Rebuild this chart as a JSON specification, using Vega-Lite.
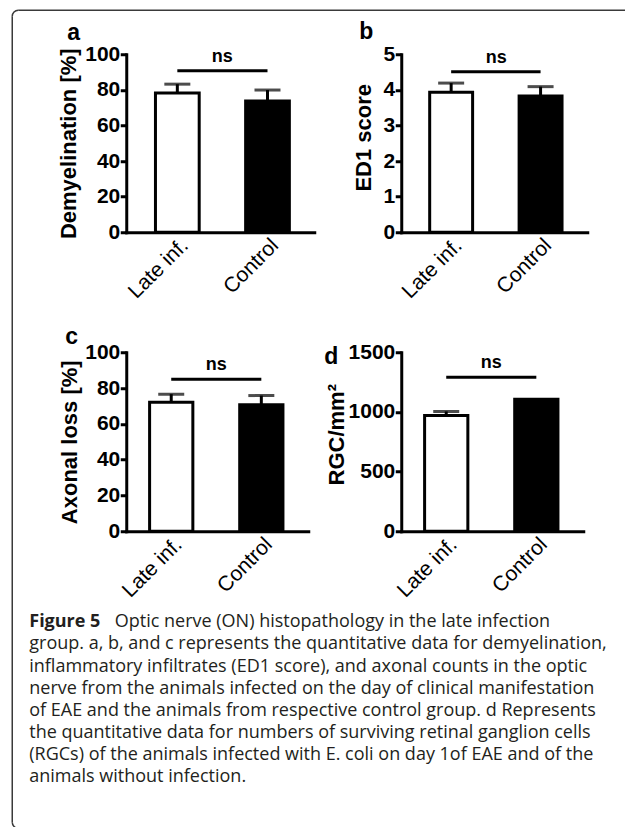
{
  "$schema": "https://vega.github.io/schema/vega-lite/v6.json",
  "autosize": {"type": "pad"},
  "padding": {"left": 9.25, "top": 7.25, "right": 0, "bottom": 0},
  "background": "white",
  "columns": 2,
  "bounds": "flush",
  "spacing": {"row": 120, "column": 87},
  "concat": [
    {
      "width": 188, "height": 178,
      "data": {"values": [
        {"group": "Late inf.", "mean": 78.3, "hi": 83.2},
        {"group": "Control", "mean": 73.8, "hi": 79.9}
      ]},
      "layer": [
        {
          "transform": [{"filter": "datum.hi != null"}],
          "mark": {"type": "rule", "color": "black", "strokeWidth": 3},
          "encoding": {
            "x": {"field": "group", "type": "nominal", "sort": null, "scale": {"domain": ["Late inf.", "Control"], "paddingInner": 0.515, "paddingOuter": 0.3, "align": 0.54}, "axis": {"title": null, "labelAngle": -45, "ticks": false, "labelFontWeight": "normal", "labelPadding": 2}},
            "y": {"field": "mean", "type": "quantitative", "scale": {"domain": [0, 100], "nice": false}, "axis": {"title": "Demyelination [%]", "values": [0, 20, 40, 60, 80, 100], "titlePadding": 4}},
            "y2": {"field": "hi"}
          }
        },
        {
          "transform": [{"filter": "datum.hi != null"}],
          "mark": {"type": "tick", "color": "black", "thickness": 3, "size": 26},
          "encoding": {
            "x": {"field": "group", "type": "nominal", "sort": null},
            "y": {"field": "hi", "type": "quantitative", "scale": {"domain": [0, 100], "nice": false}, "axis": {"title": "Demyelination [%]", "values": [0, 20, 40, 60, 80, 100], "titlePadding": 4}}
          }
        },
        {
          "mark": {"type": "bar", "stroke": "black", "strokeWidth": 3},
          "encoding": {
            "x": {"field": "group", "type": "nominal", "sort": null},
            "y": {"field": "mean", "type": "quantitative", "scale": {"domain": [0, 100], "nice": false}, "axis": {"title": "Demyelination [%]", "values": [0, 20, 40, 60, 80, 100], "titlePadding": 4}},
            "fill": {"field": "group", "type": "nominal", "scale": {"domain": ["Late inf.", "Control"], "range": ["white", "black"]}, "legend": null}
          }
        },
        {
          "data": {"values": [{"from": "Late inf.", "to": "Control", "level": 90.8}]},
          "mark": {"type": "rule", "color": "black", "strokeWidth": 3},
          "encoding": {
            "x": {"field": "from", "type": "nominal", "bandPosition": 0.5},
            "x2": {"field": "to", "bandPosition": 0.5},
            "y": {"field": "level", "type": "quantitative", "scale": {"domain": [0, 100], "nice": false}, "axis": {"title": "Demyelination [%]", "values": [0, 20, 40, 60, 80, 100], "titlePadding": 4}}
          }
        },
        {
          "data": {"values": [{"from": "Late inf.", "to": "Control", "level": 90.8}]},
          "mark": {"type": "text", "text": "ns", "dx": 45, "dy": -9, "baseline": "alphabetic", "fontSize": 18, "fontWeight": "bold", "font": "Liberation Sans", "color": "black"},
          "encoding": {
            "x": {"field": "from", "type": "nominal"},
            "y": {"field": "level", "type": "quantitative", "scale": {"domain": [0, 100], "nice": false}, "axis": {"title": "Demyelination [%]", "values": [0, 20, 40, 60, 80, 100], "titlePadding": 4}}
          }
        },
        {
          "data": {"values": [{"letter": "a"}]},
          "mark": {"type": "text", "align": "left", "baseline": "alphabetic", "fontSize": 23, "fontWeight": "bold", "font": "Liberation Sans", "color": "black"},
          "encoding": {"text": {"field": "letter"}, "x": {"value": -59}, "y": {"value": -14}}
        }
      ]
    },
    {
      "width": 186, "height": 178,
      "data": {"values": [
        {"group": "Late inf.", "mean": 3.93, "hi": 4.19},
        {"group": "Control", "mean": 3.83, "hi": 4.09}
      ]},
      "layer": [
        {
          "transform": [{"filter": "datum.hi != null"}],
          "mark": {"type": "rule", "color": "black", "strokeWidth": 3},
          "encoding": {
            "x": {"field": "group", "type": "nominal", "sort": null, "scale": {"domain": ["Late inf.", "Control"], "paddingInner": 0.52, "paddingOuter": 0.3, "align": 0.53}, "axis": {"title": null, "labelAngle": -45, "ticks": false, "labelFontWeight": "normal", "labelPadding": 2}},
            "y": {"field": "mean", "type": "quantitative", "scale": {"domain": [0, 5], "nice": false}, "axis": {"title": "ED1 score", "values": [0, 1, 2, 3, 4, 5], "titlePadding": 8, "titleY": 83}},
            "y2": {"field": "hi"}
          }
        },
        {
          "transform": [{"filter": "datum.hi != null"}],
          "mark": {"type": "tick", "color": "black", "thickness": 3, "size": 26},
          "encoding": {
            "x": {"field": "group", "type": "nominal", "sort": null},
            "y": {"field": "hi", "type": "quantitative", "scale": {"domain": [0, 5], "nice": false}, "axis": {"title": "ED1 score", "values": [0, 1, 2, 3, 4, 5], "titlePadding": 8, "titleY": 83}}
          }
        },
        {
          "mark": {"type": "bar", "stroke": "black", "strokeWidth": 3},
          "encoding": {
            "x": {"field": "group", "type": "nominal", "sort": null},
            "y": {"field": "mean", "type": "quantitative", "scale": {"domain": [0, 5], "nice": false}, "axis": {"title": "ED1 score", "values": [0, 1, 2, 3, 4, 5], "titlePadding": 8, "titleY": 83}},
            "fill": {"field": "group", "type": "nominal", "scale": {"domain": ["Late inf.", "Control"], "range": ["white", "black"]}, "legend": null}
          }
        },
        {
          "data": {"values": [{"from": "Late inf.", "to": "Control", "level": 4.51}]},
          "mark": {"type": "rule", "color": "black", "strokeWidth": 3},
          "encoding": {
            "x": {"field": "from", "type": "nominal", "bandPosition": 0.5},
            "x2": {"field": "to", "bandPosition": 0.5},
            "y": {"field": "level", "type": "quantitative", "scale": {"domain": [0, 5], "nice": false}, "axis": {"title": "ED1 score", "values": [0, 1, 2, 3, 4, 5], "titlePadding": 8, "titleY": 83}}
          }
        },
        {
          "data": {"values": [{"from": "Late inf.", "to": "Control", "level": 4.51}]},
          "mark": {"type": "text", "text": "ns", "dx": 45, "dy": -9, "baseline": "alphabetic", "fontSize": 18, "fontWeight": "bold", "font": "Liberation Sans", "color": "black"},
          "encoding": {
            "x": {"field": "from", "type": "nominal"},
            "y": {"field": "level", "type": "quantitative", "scale": {"domain": [0, 5], "nice": false}, "axis": {"title": "ED1 score", "values": [0, 1, 2, 3, 4, 5], "titlePadding": 8, "titleY": 83}}
          }
        },
        {
          "data": {"values": [{"letter": "b"}]},
          "mark": {"type": "text", "align": "left", "baseline": "alphabetic", "fontSize": 23, "fontWeight": "bold", "font": "Liberation Sans", "color": "black"},
          "encoding": {"text": {"field": "letter"}, "x": {"value": -42}, "y": {"value": -15}}
        }
      ]
    },
    {
      "width": 182, "height": 179,
      "data": {"values": [
        {"group": "Late inf.", "mean": 72.0, "hi": 76.6},
        {"group": "Control", "mean": 70.7, "hi": 75.8}
      ]},
      "layer": [
        {
          "transform": [{"filter": "datum.hi != null"}],
          "mark": {"type": "rule", "color": "black", "strokeWidth": 3},
          "encoding": {
            "x": {"field": "group", "type": "nominal", "sort": null, "scale": {"domain": ["Late inf.", "Control"], "paddingInner": 0.52, "paddingOuter": 0.27, "align": 0.48}, "axis": {"title": null, "labelAngle": -45, "ticks": false, "labelFontWeight": "normal", "labelPadding": 2}},
            "y": {"field": "mean", "type": "quantitative", "scale": {"domain": [0, 100], "nice": false}, "axis": {"title": "Axonal loss [%]", "values": [0, 20, 40, 60, 80, 100], "titlePadding": 3}},
            "y2": {"field": "hi"}
          }
        },
        {
          "transform": [{"filter": "datum.hi != null"}],
          "mark": {"type": "tick", "color": "black", "thickness": 3, "size": 26},
          "encoding": {
            "x": {"field": "group", "type": "nominal", "sort": null},
            "y": {"field": "hi", "type": "quantitative", "scale": {"domain": [0, 100], "nice": false}, "axis": {"title": "Axonal loss [%]", "values": [0, 20, 40, 60, 80, 100], "titlePadding": 3}}
          }
        },
        {
          "mark": {"type": "bar", "stroke": "black", "strokeWidth": 3},
          "encoding": {
            "x": {"field": "group", "type": "nominal", "sort": null},
            "y": {"field": "mean", "type": "quantitative", "scale": {"domain": [0, 100], "nice": false}, "axis": {"title": "Axonal loss [%]", "values": [0, 20, 40, 60, 80, 100], "titlePadding": 3}},
            "fill": {"field": "group", "type": "nominal", "scale": {"domain": ["Late inf.", "Control"], "range": ["white", "black"]}, "legend": null}
          }
        },
        {
          "data": {"values": [{"from": "Late inf.", "to": "Control", "level": 84.9}]},
          "mark": {"type": "rule", "color": "black", "strokeWidth": 3},
          "encoding": {
            "x": {"field": "from", "type": "nominal", "bandPosition": 0.5},
            "x2": {"field": "to", "bandPosition": 0.5},
            "y": {"field": "level", "type": "quantitative", "scale": {"domain": [0, 100], "nice": false}, "axis": {"title": "Axonal loss [%]", "values": [0, 20, 40, 60, 80, 100], "titlePadding": 3}}
          }
        },
        {
          "data": {"values": [{"from": "Late inf.", "to": "Control", "level": 84.9}]},
          "mark": {"type": "text", "text": "ns", "dx": 45, "dy": -9, "baseline": "alphabetic", "fontSize": 18, "fontWeight": "bold", "font": "Liberation Sans", "color": "black"},
          "encoding": {
            "x": {"field": "from", "type": "nominal"},
            "y": {"field": "level", "type": "quantitative", "scale": {"domain": [0, 100], "nice": false}, "axis": {"title": "Axonal loss [%]", "values": [0, 20, 40, 60, 80, 100], "titlePadding": 3}}
          }
        },
        {
          "data": {"values": [{"letter": "c"}]},
          "mark": {"type": "text", "align": "left", "baseline": "alphabetic", "fontSize": 23, "fontWeight": "bold", "font": "Liberation Sans", "color": "black"},
          "encoding": {"text": {"field": "letter"}, "x": {"value": -61}, "y": {"value": -8}}
        }
      ]
    },
    {
      "width": 182, "height": 179,
      "data": {"values": [
        {"group": "Late inf.", "mean": 970, "hi": 1004},
        {"group": "Control", "mean": 1107, "hi": null}
      ]},
      "layer": [
        {
          "transform": [{"filter": "datum.hi != null"}],
          "mark": {"type": "rule", "color": "black", "strokeWidth": 3},
          "encoding": {
            "x": {"field": "group", "type": "nominal", "sort": null, "scale": {"domain": ["Late inf.", "Control"], "paddingInner": 0.52, "paddingOuter": 0.27, "align": 0.48}, "axis": {"title": null, "labelAngle": -45, "ticks": false, "labelFontWeight": "normal", "labelPadding": 2}},
            "y": {"field": "mean", "type": "quantitative", "scale": {"domain": [0, 1500], "nice": false}, "axis": {"title": "RGC/mm²", "values": [0, 500, 1000, 1500], "format": "d", "titlePadding": 0, "titleY": 82}},
            "y2": {"field": "hi"}
          }
        },
        {
          "transform": [{"filter": "datum.hi != null"}],
          "mark": {"type": "tick", "color": "black", "thickness": 3, "size": 26},
          "encoding": {
            "x": {"field": "group", "type": "nominal", "sort": null},
            "y": {"field": "hi", "type": "quantitative", "scale": {"domain": [0, 1500], "nice": false}, "axis": {"title": "RGC/mm²", "values": [0, 500, 1000, 1500], "format": "d", "titlePadding": 0, "titleY": 82}}
          }
        },
        {
          "mark": {"type": "bar", "stroke": "black", "strokeWidth": 3},
          "encoding": {
            "x": {"field": "group", "type": "nominal", "sort": null},
            "y": {"field": "mean", "type": "quantitative", "scale": {"domain": [0, 1500], "nice": false}, "axis": {"title": "RGC/mm²", "values": [0, 500, 1000, 1500], "format": "d", "titlePadding": 0, "titleY": 82}},
            "fill": {"field": "group", "type": "nominal", "scale": {"domain": ["Late inf.", "Control"], "range": ["white", "black"]}, "legend": null}
          }
        },
        {
          "data": {"values": [{"from": "Late inf.", "to": "Control", "level": 1290}]},
          "mark": {"type": "rule", "color": "black", "strokeWidth": 3},
          "encoding": {
            "x": {"field": "from", "type": "nominal", "bandPosition": 0.5},
            "x2": {"field": "to", "bandPosition": 0.5},
            "y": {"field": "level", "type": "quantitative", "scale": {"domain": [0, 1500], "nice": false}, "axis": {"title": "RGC/mm²", "values": [0, 500, 1000, 1500], "format": "d", "titlePadding": 0, "titleY": 82}}
          }
        },
        {
          "data": {"values": [{"from": "Late inf.", "to": "Control", "level": 1290}]},
          "mark": {"type": "text", "text": "ns", "dx": 45, "dy": -9, "baseline": "alphabetic", "fontSize": 18, "fontWeight": "bold", "font": "Liberation Sans", "color": "black"},
          "encoding": {
            "x": {"field": "from", "type": "nominal"},
            "y": {"field": "level", "type": "quantitative", "scale": {"domain": [0, 1500], "nice": false}, "axis": {"title": "RGC/mm²", "values": [0, 500, 1000, 1500], "format": "d", "titlePadding": 0, "titleY": 82}}
          }
        },
        {
          "data": {"values": [{"letter": "d"}]},
          "mark": {"type": "text", "align": "left", "baseline": "alphabetic", "fontSize": 23, "fontWeight": "bold", "font": "Liberation Sans", "color": "black"},
          "encoding": {"text": {"field": "letter"}, "x": {"value": -77}, "y": {"value": 12}}
        }
      ]
    },
    {
      "width": 188, "height": 126,
      "data": {"values": [
        {"line": 1, "part": "lead", "text": "Figure 5"},
        {"line": 1, "part": "first", "text": "Optic nerve (ON) histopathology in the late infection"},
        {"line": 2, "part": "body", "text": "group. a, b, and c represents the quantitative data for demyelination,"},
        {"line": 3, "part": "body", "text": "inflammatory infiltrates (ED1 score), and axonal counts in the optic"},
        {"line": 4, "part": "body", "text": "nerve from the animals infected on the day of clinical manifestation"},
        {"line": 5, "part": "body", "text": "of EAE and the animals from respective control group. d Represents"},
        {"line": 6, "part": "body", "text": "the quantitative data for numbers of surviving retinal ganglion cells"},
        {"line": 7, "part": "body", "text": "(RGCs) of the animals infected with E. coli on day 1of EAE and of the"},
        {"line": 8, "part": "body", "text": "animals without infection."}
      ]},
      "layer": [
        {
          "data": {"values": [{}]},
          "mark": {"type": "rect", "color": "#3a3a3a"},
          "encoding": {"x": {"value": -108}, "x2": {"value": 501}, "y": {"value": -641.75}, "y2": {"value": -640.25}}
        },
        {
          "data": {"values": [{}]},
          "mark": {"type": "rect", "color": "#3a3a3a"},
          "encoding": {"x": {"value": -114.75}, "x2": {"value": -113.25}, "y": {"value": -635}, "y2": {"value": 171}}
        },
        {
          "data": {"values": [{}]},
          "mark": {"type": "arc", "filled": false, "color": "#3a3a3a", "strokeWidth": 1.5, "radius": 6, "radius2": 6, "theta": 4.712389, "theta2": 6.283185},
          "encoding": {"x": {"value": -108}, "y": {"value": -635}}
        },
        {
          "data": {"values": [{}]},
          "mark": {"type": "arc", "filled": false, "color": "#3a3a3a", "strokeWidth": 1.5, "radius": 6, "radius2": 6, "theta": 3.141593, "theta2": 4.712389},
          "encoding": {"x": {"value": -108}, "y": {"value": 171}}
        },
        {
          "mark": {
            "type": "text", "align": "left", "baseline": "middle", "font": "Open Sans", "color": "#231f20", "fontSize": 18,
            "fontWeight": {"expr": "datum.part == 'lead' ? 'bold' : 'normal'"},
            "dx": {"expr": "datum.part == 'first' ? 85.5 : 0"}
          },
          "encoding": {
            "x": {"value": -97},
            "y": {"field": "line", "type": "quantitative", "scale": {"domain": [1, 8], "range": [-29, 126]}, "axis": null},
            "text": {"field": "text"}
          }
        }
      ]
    }
  ],
  "config": {
    "view": {"stroke": null},
    "font": "Liberation Sans",
    "axis": {
      "domainColor": "black", "domainWidth": 3, "domainCap": "square",
      "tickColor": "black", "tickWidth": 3, "tickSize": 6,
      "labelColor": "black", "labelFont": "Liberation Sans", "labelFontSize": 21, "labelFontWeight": "bold", "labelPadding": 0.5, "labelOverlap": false,
      "titleColor": "black", "titleFont": "Liberation Sans", "titleFontSize": 22, "titleFontWeight": "bold",
      "grid": false
    }
  }
}
